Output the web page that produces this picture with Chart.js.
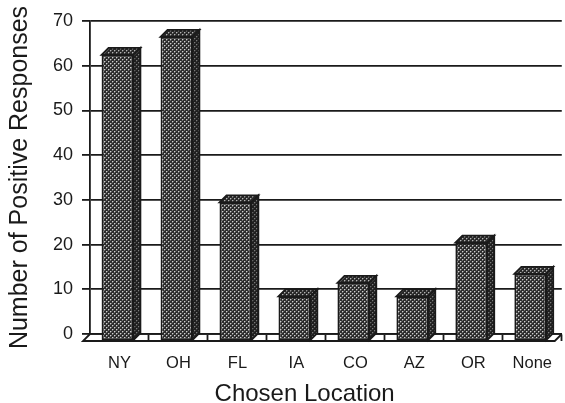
<!DOCTYPE html>
<html>
<head>
<meta charset="utf-8">
<script src="https://cdn.jsdelivr.net/npm/chart.js@4.4.1/dist/chart.umd.min.js"></script>
<style>
  html, body { margin: 0; padding: 0; background: #fff; }
  #wrap { width: 565px; height: 403px; }
</style>
</head>
<body>
<div id="wrap"><canvas id="c" width="565" height="403"></canvas></div>
<script>
// Survey: preferred location, count of positive responses
const categories = ['NY', 'OH', 'FL', 'IA', 'CO', 'AZ', 'OR', 'None'];
const responses  = [64, 68, 31, 10, 13, 10, 22, 15];
const yTicks     = [0, 10, 20, 30, 40, 50, 60, 70];
const yTitle     = 'Number of Positive Responses';
const xTitle     = 'Chosen Location';

const FONT = "'Liberation Sans', Arial, Helvetica, sans-serif";
const INK = '#1a1a1a';
const LINE = 1.8;
// oblique projection used for the column depth and the floor slab
const DEPTH_X = 7, DEPTH_Y = 7;
const FRONT_SHIFT = -2;

// halftone-like dot fills for the column faces
function dotPattern(base, light, mid) {
  const t = document.createElement('canvas');
  t.width = 4; t.height = 4;
  const g = t.getContext('2d');
  g.fillStyle = base; g.fillRect(0, 0, 4, 4);
  if (mid) {
    g.fillStyle = mid;
    g.fillRect(1, 0, 1, 1); g.fillRect(0, 1, 1, 1);
    g.fillRect(3, 2, 1, 1); g.fillRect(2, 3, 1, 1);
  }
  g.fillStyle = light;
  g.fillRect(0, 0, 1, 1); g.fillRect(2, 2, 1, 1);
  return g.createPattern(t, 'repeat');
}
const frontFill = dotPattern('#2c2c2c', '#cfcfcf', '#6e6e6e');
const topFill   = dotPattern('#282828', '#b4b4b4', '#5e5e5e');
const sideFill  = dotPattern('#202020', '#7a7a7a', '#3c3c3c');

const columns3d = {
  id: 'columns3d',
  beforeDatasetsDraw(chart) {
    const { ctx, chartArea: a } = chart;
    // floor slab: front edge and slanted ends
    ctx.save();
    ctx.strokeStyle = INK;
    ctx.lineWidth = LINE;
    ctx.beginPath();
    ctx.moveTo(a.left, a.bottom);
    ctx.lineTo(a.left - DEPTH_X, a.bottom + DEPTH_Y);
    ctx.lineTo(a.right - DEPTH_X, a.bottom + DEPTH_Y);
    ctx.lineTo(a.right, a.bottom);
    ctx.stroke();
    ctx.restore();
    // front faces sit one depth step forward of the back wall
    ctx.save();
    ctx.translate(FRONT_SHIFT, DEPTH_Y);
  },
  afterDatasetsDraw(chart) {
    const { ctx } = chart;
    ctx.restore();
    const meta = chart.getDatasetMeta(0);
    ctx.save();
    ctx.strokeStyle = INK;
    ctx.lineWidth = LINE;
    meta.data.forEach(bar => {
      const { x, y, base, width } = bar.getProps(['x', 'y', 'base', 'width'], true);
      const xl = x + FRONT_SHIFT - width / 2;
      const xr = x + FRONT_SHIFT + width / 2;
      const yt = y + DEPTH_Y;
      const yb = base + DEPTH_Y;
      // top face
      ctx.beginPath();
      ctx.moveTo(xl, yt);
      ctx.lineTo(xl + DEPTH_X, yt - DEPTH_Y);
      ctx.lineTo(xr + DEPTH_X, yt - DEPTH_Y);
      ctx.lineTo(xr, yt);
      ctx.closePath();
      ctx.fillStyle = topFill;
      ctx.fill();
      ctx.stroke();
      // side face
      ctx.beginPath();
      ctx.moveTo(xr, yt);
      ctx.lineTo(xr + DEPTH_X, yt - DEPTH_Y);
      ctx.lineTo(xr + DEPTH_X, yb - DEPTH_Y);
      ctx.lineTo(xr, yb);
      ctx.closePath();
      ctx.fillStyle = sideFill;
      ctx.fill();
      ctx.stroke();
    });
    ctx.restore();
  },
  afterDraw(chart) {
    // horizontal axis caption
    const { ctx, chartArea: a } = chart;
    ctx.save();
    ctx.fillStyle = INK;
    ctx.font = '24px ' + FONT;
    ctx.textAlign = 'center';
    ctx.textBaseline = 'middle';
    ctx.fillText(xTitle, a.left + (a.right - a.left) * 0.455, a.bottom + 60);
    ctx.restore();
  }
};

new Chart(document.getElementById('c'), {
  type: 'bar',
  data: {
    labels: categories,
    datasets: [{
      data: responses,
      backgroundColor: frontFill,
      borderColor: INK,
      borderWidth: LINE,
      borderSkipped: false,
      categoryPercentage: 1,
      barPercentage: 0.54,
      clip: false
    }]
  },
  options: {
    responsive: false,
    animation: false,
    devicePixelRatio: 1,
    layout: { padding: { top: 21, left: 0, right: 0, bottom: 0 } },
    plugins: { legend: { display: false }, tooltip: { enabled: false }, title: { display: false } },
    scales: {
      x: {
        type: 'category',
        offset: true,
        grid: {
          display: true,
          offset: true,
          drawOnChartArea: false,
          drawTicks: true,
          tickLength: 7,
          tickWidth: LINE,
          tickColor: c => (c.index === 0 || c.index >= categories.length) ? 'rgba(0,0,0,0)' : INK
        },
        border: { display: true, color: INK, width: LINE },
        ticks: {
          color: INK,
          font: { family: FONT, size: 16.5 },
          padding: 13,
          autoSkip: false,
          maxRotation: 0
        },
        afterFit: s => { s.height = 69; }
      },
      y: {
        min: 0,
        max: 70,
        afterBuildTicks: s => { s.ticks = yTicks.map(v => ({ value: v })); },
        ticks: { color: INK, font: { family: FONT, size: 18 }, padding: 9 },
        grid: { color: INK, lineWidth: LINE, tickLength: 8, drawTicks: true },
        border: { display: true, color: INK, width: LINE },
        title: {
          display: true,
          text: yTitle,
          color: INK,
          font: { family: FONT, size: 25 },
          padding: { top: 5, bottom: 0 }
        },
        afterFit: s => { s.width = 90; }
      }
    }
  },
  plugins: [columns3d]
});
</script>
</body>
</html>
